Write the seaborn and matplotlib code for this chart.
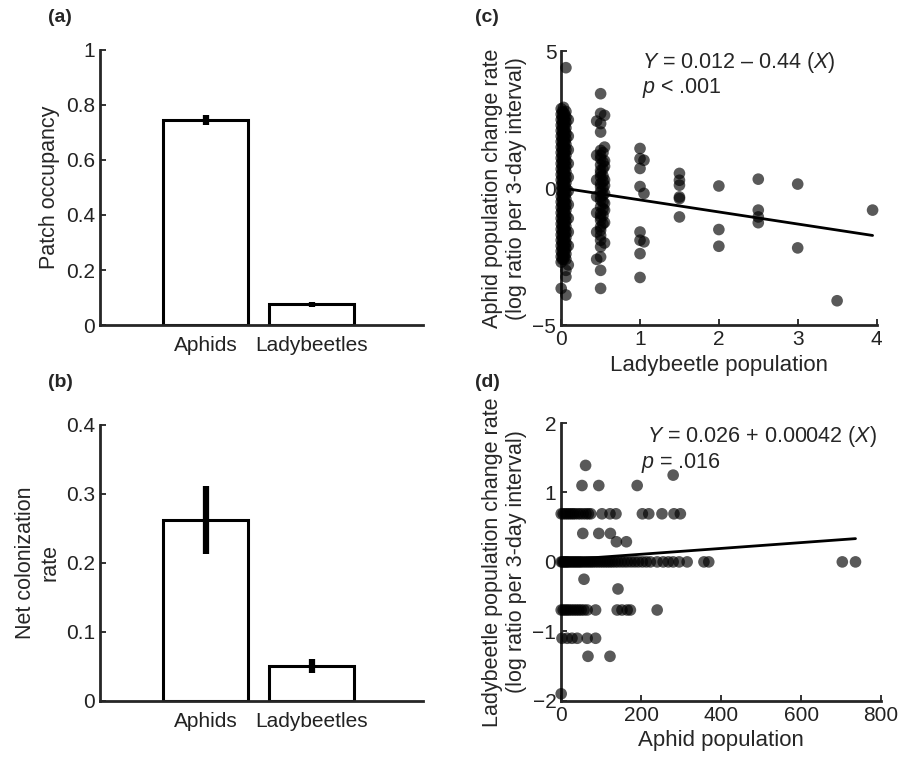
import numpy as np
import pandas as pd
import matplotlib
matplotlib.use("Agg")
import matplotlib.pyplot as plt
from matplotlib.ticker import FuncFormatter
import seaborn as sns

# Bar panels (a) and (b)
species = ["Aphids", "Ladybeetles"]
occupancy = [0.745, 0.075]
occupancy_err = [0.018, 0.009]
colonization = [0.262, 0.050]
colonization_err = [0.049, 0.010]

# Panel (c): ladybeetle population (x) -> aphid change rate (y), grouped by x column
c_columns = {
    0.0: [2.9, 2.7, 2.5, 2.3, 2.1, 1.9, 1.7, 1.5, 1.3, 1.1, 0.9, 0.7, 0.5, 0.3, 0.1,
          -0.1, -0.3, -0.5, -0.7, -0.9, -1.1, -1.3, -1.5, -1.7, -1.9, -2.1, -2.3,
          -2.5, -2.7, -3.66],
    0.015: [2.8, 2.6, 2.4, 2.2, 2.0, 1.8, 1.6, 1.4, 1.2, 1.0, 0.8, 0.6, 0.4, 0.2,
            0.0, -0.2, -0.4, -0.6, -0.8, -1.0, -1.2, -1.4, -1.6, -1.8, -2.0, -2.2,
            -2.4, -2.6],
    0.03: [2.95, 2.75, 2.55, 2.35, 2.15, 1.95, 1.75, 1.55, 1.35, 1.15, 0.95, 0.75,
           0.55, 0.35, 0.15, -0.05, -0.25, -0.45, -0.65, -0.85, -1.05, -1.25,
           -1.45, -1.65, -1.85, -2.05, -2.25, -2.45, -2.6],
    0.045: [2.7, 2.5, 2.3, 2.1, 1.9, 1.7, 1.5, 1.3, 1.1, 0.9, 0.7, 0.5, 0.3, 0.1,
            -0.1, -0.3, -0.5, -0.7, -0.9, -1.1, -1.3, -1.5, -1.7, -1.9, -2.1, -2.3,
            -2.5],
    0.06: [4.4, 2.8, 2.6, 2.4, 2.2, 2.0, 1.8, 1.6, 1.4, 1.2, 1.0, 0.8, 0.6, 0.4, 0.2,
           0.0, -0.2, -0.4, -0.6, -0.8, -1.0, -1.2, -1.4, -1.6, -1.8, -2.0, -2.2,
           -2.4, -2.6, -3.0, -3.24, -3.9],
    0.09: [2.5, 1.9, 1.4, 0.9, 0.4, -0.1, -0.6, -1.1, -1.6, -2.1, -2.8],
    0.45: [2.45, 1.2, 0.3, -0.3, -0.9, -1.6, -2.6],
    0.5: [3.45, 2.73, 2.36, 2.05, 1.38, 1.2, 1.08, 0.85, 0.65, 0.54, 0.41, 0.17,
          0.05, -0.13, -0.32, -0.44, -0.68, -0.93, -1.05, -1.17, -1.41, -1.53,
          -1.72, -1.9, -2.14, -2.51, -3.0, -3.66],
    0.53: [1.3, 0.95, 0.7, 0.45, 0.25, 0.0, -0.25, -0.5, -0.75, -1.0, -1.3],
    0.55: [2.66, 1.5, 1.0, 0.8, 0.3, 0.1, -0.19, -0.55, -0.8, -1.25, -2.0],
    1.0: [1.45, 1.08, 0.72, 0.06, -1.6, -1.9, -2.39, -3.26],
    1.05: [1.02, -0.19, -1.96],
    1.5: [0.54, 0.29, 0.11, -0.32, -0.38, -1.05],
    2.0: [0.08, -1.51, -2.12],
    2.5: [0.33, -0.8, -1.05, -1.26],
    3.0: [0.15, -2.18],
    3.5: [-4.11],
    3.95: [-0.8],
}
c_fit = (0.012, -0.44)

# Panel (d): aphid population (x) -> ladybeetle change rate (y), grouped by y row
d_rows = {
    0.693: [0, 5, 10, 15, 20, 25, 30, 35, 42, 48, 55, 62, 68, 74, 102, 122, 137,
            203, 219, 252, 282, 298],
    0.0: [0, 3, 6, 9, 12, 15, 18, 22, 26, 30, 34, 38, 42, 46, 50, 55, 60, 65, 70,
          75, 80, 86, 92, 98, 104, 110, 116, 122, 128, 135, 142, 150, 158, 166,
          175, 184, 193, 203, 213, 223, 240, 255, 268, 280, 295, 315, 357, 369,
          703, 736],
    -0.693: [0, 5, 10, 15, 20, 26, 32, 38, 44, 50, 57, 65, 86, 140, 152, 165, 173,
             240],
    -1.1: [2, 15, 27, 40, 65, 86],
    -1.36: [67, 122],
    1.1: [52, 94, 190],
    0.41: [54, 94, 123],
    0.29: [138, 163],
    1.39: [61],
    1.25: [280],
    -0.25: [57],
    -0.39: [142],
    -1.9: [0],
}
d_fit = (0.026, 0.00042)

sns.set_style("ticks")
plt.rcParams["font.family"] = ["Liberation Sans", "DejaVu Sans"]
plt.rcParams["mathtext.fontset"] = "custom"
plt.rcParams["mathtext.rm"] = "Liberation Sans"
plt.rcParams["mathtext.it"] = "Liberation Sans:italic"

TICK = 15
LABEL = 15.5


def fmt(v, pos):
    return f"{v:g}".replace("-", "\u2212")


def style_axes(ax):
    sns.despine(ax=ax)
    for s in ("left", "bottom"):
        ax.spines[s].set_linewidth(2.0)
    ax.tick_params(direction="in", length=4, width=1.3, labelsize=TICK, colors="#222222")
    ax.yaxis.set_major_formatter(FuncFormatter(fmt))


def bar_panel(ax, values, errs, ylim, yticks, ylabel):
    df = pd.DataFrame({"species": species, "value": values})
    sns.barplot(data=df, x="species", y="value", ax=ax, color="white",
                edgecolor="black", linewidth=2.2, width=0.8, errorbar=None)
    ax.errorbar(range(len(species)), values, yerr=errs, fmt="none",
                ecolor="black", elinewidth=4.5, capsize=0)
    ax.set_xlim(-1.0, 2.05)
    ax.set_ylim(*ylim)
    ax.set_yticks(yticks)
    ax.set_xlabel("")
    ax.set_ylabel(ylabel, fontsize=LABEL)
    style_axes(ax)
    ax.tick_params(axis="x", length=0, pad=8)


fig = plt.figure(figsize=(9.14, 7.65), dpi=100)
ax_a = fig.add_axes([0.109, 0.575, 0.354, 0.36])
ax_b = fig.add_axes([0.109, 0.084, 0.354, 0.361])
ax_c = fig.add_axes([0.614, 0.575, 0.345, 0.358])
ax_d = fig.add_axes([0.614, 0.084, 0.350, 0.363])

bar_panel(ax_a, occupancy, occupancy_err, (0, 1), [0, 0.2, 0.4, 0.6, 0.8, 1],
          "Patch occupancy")
bar_panel(ax_b, colonization, colonization_err, (0, 0.4), [0, 0.1, 0.2, 0.3, 0.4],
          "Net colonization\nrate")

# panel c
cx, cy = [], []
for x, ys in c_columns.items():
    cx += [x] * len(ys)
    cy += ys
sns.scatterplot(x=cx, y=cy, ax=ax_c, color="black", alpha=0.65, s=70,
                edgecolor="none", clip_on=False, zorder=3)
xl = np.array([0, max(cx)])
ax_c.plot(xl, c_fit[0] + c_fit[1] * xl, color="black", lw=2, zorder=4)
ax_c.set_xlim(0, 4)
ax_c.set_ylim(-5, 5)
ax_c.set_xticks([0, 1, 2, 3, 4])
ax_c.set_yticks([-5, 0, 5])
ax_c.set_xlabel("Ladybeetle population", fontsize=LABEL + 0.5)
ax_c.set_ylabel("Aphid population change rate\n(log ratio per 3-day interval)",
                fontsize=LABEL)
style_axes(ax_c)
ax_c.text(1.03, 4.6, "$\\mathit{Y}$ = 0.012 \u2013 0.44 ($\\mathit{X}$)",
          fontsize=LABEL, va="center")
ax_c.text(1.03, 3.65, r"$\mathit{p}$ < .001", fontsize=LABEL, va="center")

# panel d
dx, dy = [], []
for y, xs in d_rows.items():
    dx += xs
    dy += [y] * len(xs)
sns.scatterplot(x=dx, y=dy, ax=ax_d, color="black", alpha=0.65, s=70,
                edgecolor="none", clip_on=False, zorder=3)
xl = np.array([0, max(dx)])
ax_d.plot(xl, d_fit[0] + d_fit[1] * xl, color="black", lw=2, zorder=4)
ax_d.set_xlim(0, 800)
ax_d.set_ylim(-2, 2)
ax_d.set_xticks([0, 200, 400, 600, 800])
ax_d.set_yticks([-2, -1, 0, 1, 2])
ax_d.set_xlabel("Aphid population", fontsize=LABEL + 0.5)
ax_d.set_ylabel("Ladybeetle population change rate\n(log ratio per 3-day interval)",
                fontsize=LABEL)
style_axes(ax_d)
ax_d.text(215, 1.8, r"$\mathit{Y}$ = 0.026 + 0.00042 ($\mathit{X}$)",
          fontsize=LABEL, va="center")
ax_d.text(200, 1.43, r"$\mathit{p}$ = .016", fontsize=LABEL, va="center")

for lab, (x, y) in {"(a)": (0.052, 0.977), "(b)": (0.052, 0.5),
                    "(c)": (0.52, 0.977), "(d)": (0.52, 0.5)}.items():
    fig.text(x, y, lab, fontsize=14, fontweight="bold", va="center")

fig.savefig("out.png", dpi=100)
